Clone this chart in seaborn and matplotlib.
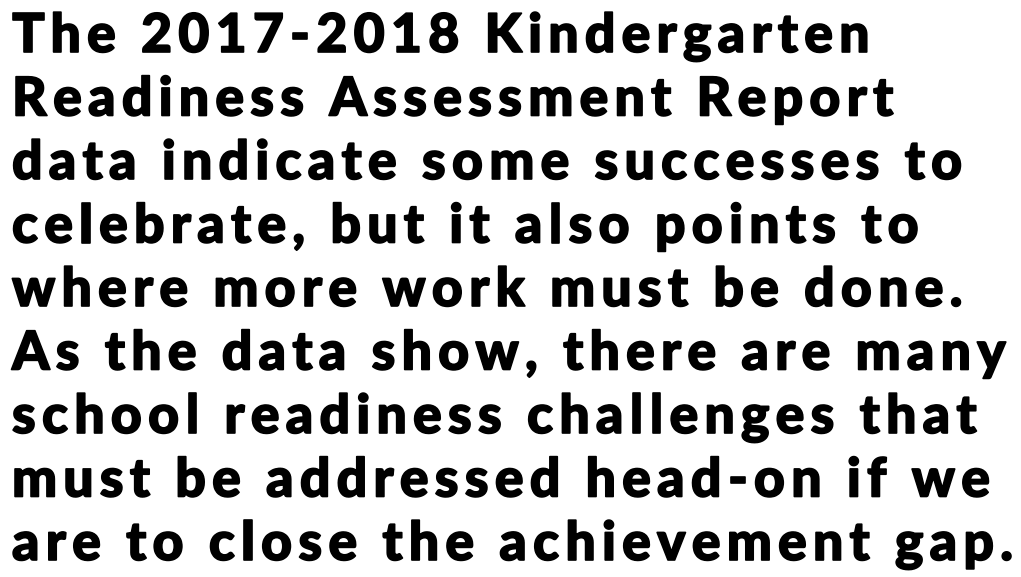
import seaborn as sns
import matplotlib.pyplot as plt
import matplotlib.patheffects as pe

# text of the statement, one entry per line
lines = [
    "The 2017-2018 Kindergarten",
    "Readiness Assessment Report",
    "data indicate some successes to",
    "celebrate, but it also points to",
    "where more work must be done.",
    "As the data show, there are many",
    "school readiness challenges that",
    "must be addressed head-on if we",
    "are to close the achievement gap.",
]

sns.set_theme(style="white")
plt.rcParams['font.family'] = ['Lato', 'DejaVu Sans']

W, H = 1021, 577
fig = plt.figure(figsize=(W / 100, H / 100), dpi=100)
ax = fig.add_axes([0, 0, 1, 1])
ax.set_axis_off()
ax.set_xlim(0, W)
ax.set_ylim(H, 0)
renderer = fig.canvas.get_renderer()

size = 38.5
weight = "black"
left, right = 12, 1013
top_base, pitch = 52, 63.5
# a thin outline makes the glyphs a bit heavier, like the reference face
bold_fx = [pe.withStroke(linewidth=1.2, foreground="black")]


def char_widths(s):
    ws = []
    for ch in s:
        t = ax.text(0, 0, ch if ch != " " else "n", fontsize=size, fontweight=weight)
        w = t.get_window_extent(renderer).width
        if ch == " ":
            t2 = ax.text(0, 0, "n n", fontsize=size, fontweight=weight)
            w = t2.get_window_extent(renderer).width - 2 * w
            t2.remove()
        t.remove()
        ws.append(w)
    return ws


# letter spacing chosen so the last line spans the reference width
last = char_widths(lines[-1])
track = (right - left - sum(last)) / (len(last) - 1)

for i, line in enumerate(lines):
    x = left
    y = top_base + i * pitch
    for ch, w in zip(line, char_widths(line)):
        ax.text(x, y, ch, fontsize=size, fontweight=weight, color="black",
                va="baseline", ha="left", path_effects=bold_fx)
        x += w + track

fig.savefig("out.png", dpi=100, facecolor="white")
